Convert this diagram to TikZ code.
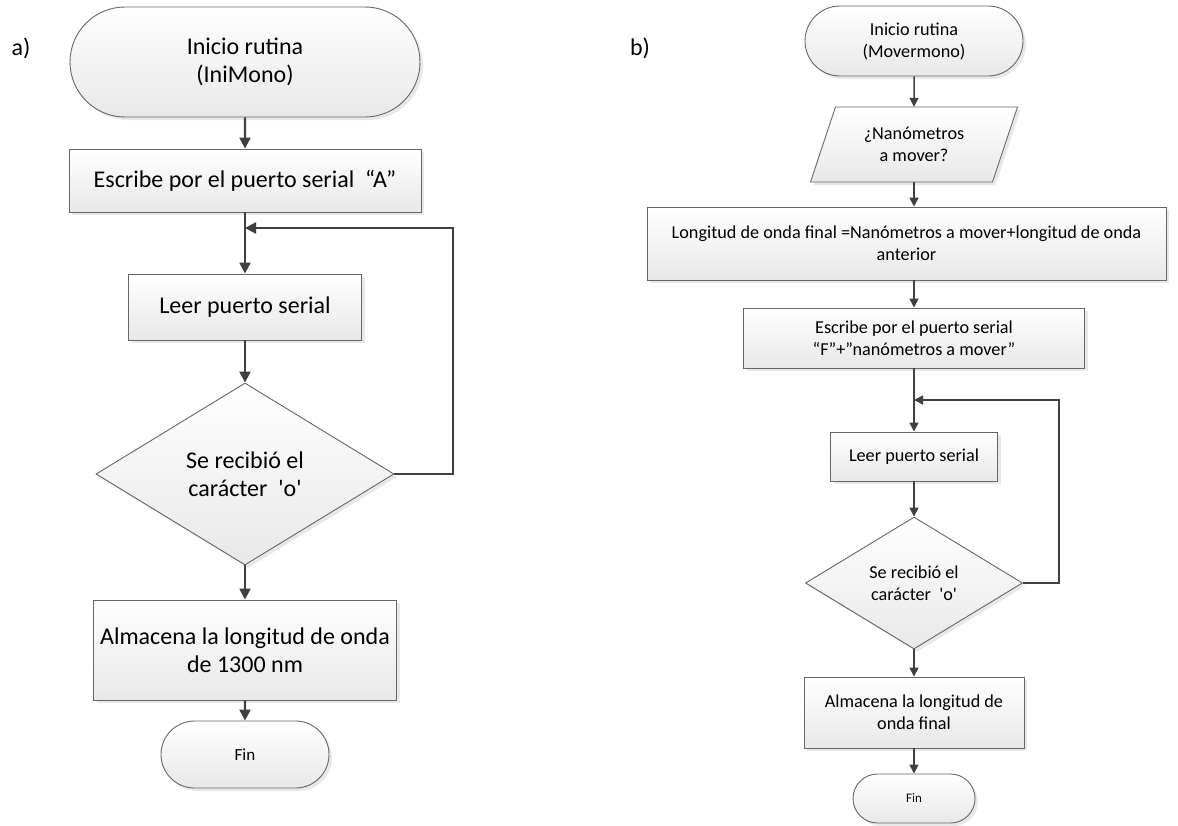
\documentclass[tikz,border=0pt]{standalone}
\usepackage{fontspec}
\newfontfamily\calibri{Carlito}
\usetikzlibrary{shapes.geometric,shapes.misc,shadows,arrows.meta}
\begin{document}
\begin{tikzpicture}[x=1pt,y=-1pt,
  base/.style={draw=black!60, line width=0.9pt, top color=white, bottom color=black!9,
    drop shadow={opacity=0.18, shadow xshift=3pt, shadow yshift=-3pt}},
  procbox/.style={base, rectangle, inner sep=0pt, align=center},
  termbox/.style={base, rounded rectangle, inner sep=0pt, align=center},
  decbox/.style={base, diamond, aspect=1.64, inner sep=0pt, align=center},
  iotext/.style={rectangle, inner sep=0pt, align=center},
  fbig/.style={font=\calibri\fontsize{24pt}{28.5pt}\selectfont},
  fsmall/.style={font=\calibri\fontsize{18.2pt}{22pt}\selectfont},
  arrA/.style={draw=black!75, line width=2.3pt, -{Triangle[length=11pt,width=11pt]}},
  arrB/.style={draw=black!75, line width=1.5pt, -{Triangle[length=9pt,width=9pt]}},
]
\useasboundingbox (0,0) rectangle (1178,825);

% labels
\node[font=\calibri\fontsize{24pt}{28pt}\selectfont] (la) at (21,48) {a)};
\node[font=\calibri\fontsize{24pt}{28pt}\selectfont] (lb) at (640,48) {b)};

% ---------- chart a ----------
\node[termbox, fbig, minimum width=350, minimum height=110] (a0) at (245,62) {Inicio rutina\\(IniMono)};
\node[procbox, fbig, minimum width=352, minimum height=63] (a1) at (245,180.5) {Escribe por el puerto serial~~“A”};
\node[procbox, fbig, minimum width=233, minimum height=66] (a2) at (245,307) {Leer puerto serial};
\node[decbox, fbig, minimum width=298, minimum height=182] (a3) at (245,474) {Se recibió el\\carácter~~'o'};
\node[procbox, fbig, minimum width=303, minimum height=100] (a4) at (245,650) {Almacena la longitud de onda\\de 1300 nm};
\node[termbox, font=\calibri\fontsize{17pt}{20pt}\selectfont, minimum width=168, minimum height=67] (a5) at (245,754.5) {Fin};
\coordinate (ja) at (245,228);
\coordinate (ra) at (453,474);

\draw[arrA] (a0) -- (a1);
\draw[arrA] (a1) -- (a2);
\draw[arrA] (a2) -- (a3);
\draw[arrA] (a3) -- (a4);
\draw[arrA] (a4) -- (a5);
\draw[arrA] (a3.east) -- (ra) |- (ja);

% ---------- chart b ----------
\node[termbox, fsmall, minimum width=218, minimum height=70] (b0) at (914,41) {Inicio rutina\\(Movermono)};
% parallelogram (input)
\coordinate (pc) at (914,144.5);
\draw[base] (pc) ++(-78.5,-37.5) -- ++(182,0) -- ++(-25,75) -- ++(-182,0) -- cycle;
\node[iotext, fsmall, minimum width=182, minimum height=75] (b1) at (pc) {¿Nanómetros\\a mover?};
\node[procbox, fsmall, minimum width=519, minimum height=73] (b2) at (906.5,243.5) {Longitud de onda final =Nanómetros a mover+longitud de onda\\anterior};
\node[procbox, fsmall, minimum width=341, minimum height=60] (b3) at (914,338) {Escribe por el puerto serial\\“F”+”nanómetros a mover”};
\node[procbox, fsmall, minimum width=167, minimum height=49] (b4) at (914,456.5) {Leer puerto serial};
\node[decbox, fsmall, minimum width=217, minimum height=132] (b5) at (914,583) {Se recibió el\\carácter~~'o'};
\node[procbox, fsmall, minimum width=220, minimum height=71] (b6) at (914,712.5) {Almacena la longitud de\\onda final};
\node[termbox, font=\calibri\fontsize{13pt}{16pt}\selectfont, minimum width=122, minimum height=49] (b7) at (914,798.5) {Fin};
\coordinate (jb) at (914,400);
\coordinate (rb) at (1059,583);

\draw[arrB] (b0) -- (b1);
\draw[arrB] (b1.south) -- (b1.south |- b2.north);
\draw[arrB] (b2.south -| b3.north) -- (b3.north);
\draw[arrB] (b3) -- (b4);
\draw[arrB] (b4) -- (b5);
\draw[arrB] (b5) -- (b6);
\draw[arrB] (b6) -- (b7);
\draw[arrB] (b5.east) -- (rb) |- (jb);
\end{tikzpicture}
\end{document}
